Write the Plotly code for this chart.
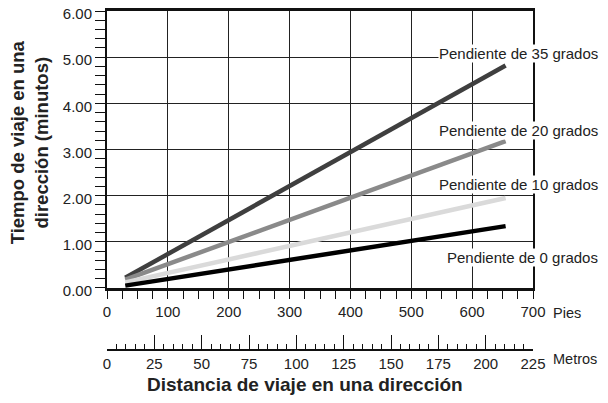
import plotly.graph_objects as go

# distance (feet) and one-way travel time (minutes) per slope
dist_ft = [30, 655]
t_35 = [0.22, 4.82]
t_20 = [0.18, 3.18]
t_10 = [0.12, 1.95]
t_0 = [0.05, 1.34]

slopes = ["35", "20", "10", "0"]
series = [t_35, t_20, t_10, t_0]
colors = ["#3f3f3f", "#8a8a8a", "#dadada", "#000000"]
label_y = [5.08, 3.42, 2.25, 0.67]

FONT = "Arial, Liberation Sans, Helvetica, sans-serif"
TXT = "#222"

fig = go.Figure()
for s, vals, c in zip(slopes, series, colors):
    fig.add_trace(go.Scatter(x=dist_ft, y=vals, mode="lines",
                             line=dict(color=c, width=4.5),
                             name="Pendiente de %s grados" % s, hoverinfo="skip"))

# dummy trace so the metre axis is drawn
fig.add_trace(go.Scatter(x=[], y=[], xaxis="x2", yaxis="y", showlegend=False))

for s, ly in zip(slopes, label_y):
    fig.add_annotation(x=1.155, xref="paper", y=ly, yref="y",
                       text="Pendiente de %s grados" % s, showarrow=False,
                       xanchor="right", yanchor="middle", bgcolor="white",
                       font=dict(size=15, color=TXT, family=FONT), borderpad=0)

fig.add_annotation(x=1.043, xref="paper", y=0.109, yref="paper", text="Pies",
                   showarrow=False, xanchor="left", yanchor="middle",
                   font=dict(size=14.5, color=TXT, family=FONT))
fig.add_annotation(x=1.043, xref="paper", y=-0.028, yref="paper", text="Metros",
                   showarrow=False, xanchor="left", yanchor="middle",
                   font=dict(size=14.5, color=TXT, family=FONT))
fig.add_annotation(x=0.465, xref="paper", y=-0.102, yref="paper",
                   text="<b>Distancia de viaje en una dirección</b>",
                   showarrow=False, xanchor="center", yanchor="middle",
                   font=dict(size=19, color=TXT, family=FONT))
fig.add_annotation(x=-0.182, xref="paper", y=0.614, yref="paper",
                   text="<b>Tiempo de viaje en una<br>dirección (minutos)</b>",
                   textangle=-90, showarrow=False, xanchor="center", yanchor="middle",
                   font=dict(size=18.5, color=TXT, family=FONT))

fig.update_layout(
    width=592, height=387,
    margin=dict(l=99, r=67, t=3, b=45),
    plot_bgcolor="white", paper_bgcolor="white",
    showlegend=False,
    font=dict(family=FONT, size=15, color=TXT),
    xaxis=dict(range=[0, 700], dtick=100, anchor="y", automargin=False,
               ticks="outside", ticklen=8, tickcolor="#111", tickwidth=1.2,
               minor=dict(dtick=25, ticks="outside", ticklen=8, tickcolor="#111"),
               showgrid=True, gridcolor="#222", gridwidth=1,
               showline=True, linecolor="#111", linewidth=2.5, mirror=True,
               zeroline=False),
    xaxis2=dict(range=[0, 225], dtick=25, overlaying="x", anchor="free", position=0,
                side="bottom", ticks="inside", ticklen=14, tickcolor="#111",
                automargin=False,
                minor=dict(dtick=5, ticks="inside", ticklen=5, tickcolor="#111"),
                showgrid=False, showline=True, linecolor="#111", linewidth=1.5,
                zeroline=False),
    yaxis=dict(range=[0, 6], dtick=1, tickformat=".2f", domain=[0.183, 1],
               automargin=False, ticklabelshift=3, ticklabeloverflow="allow",
               ticks="outside", ticklen=10, tickcolor="#111",
               minor=dict(dtick=0.2, ticks="outside", ticklen=10, tickcolor="#111"),
               showgrid=True, gridcolor="#222", gridwidth=1,
               showline=True, linecolor="#111", linewidth=2, mirror=True,
               zeroline=False),
)

fig.write_html("out.html")
